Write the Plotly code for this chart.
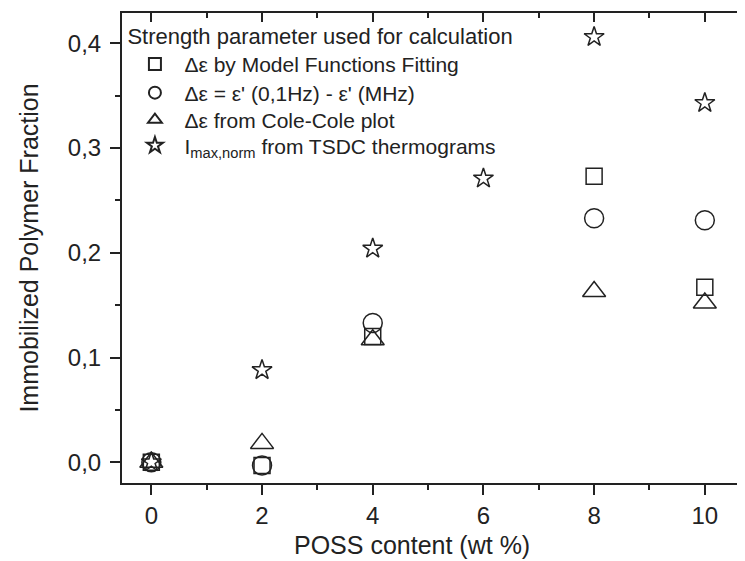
import plotly.graph_objects as go

# ---- data ----
x_sq = [0, 2, 4, 8, 10]
y_sq = [0.0, -0.003, 0.120, 0.273, 0.167]

x_ci = [0, 2, 4, 8, 10]
y_ci = [0.0, -0.003, 0.133, 0.233, 0.231]

x_tr = [0, 2, 4, 8, 10]
y_tr = [0.0, 0.018, 0.117, 0.163, 0.152]

x_st = [0, 2, 4, 6, 8, 10]
y_st = [0.0, 0.088, 0.204, 0.271, 0.406, 0.343]

names = [
    "Δε by Model Functions Fitting",
    "Δε = ε' (0,1Hz) - ε' (MHz)",
    "Δε from Cole-Cole plot",
    "I<sub>max,norm</sub> from TSDC thermograms",
]
legend_title = "Strength parameter used for calculation"

x_tickvals = [0, 2, 4, 6, 8, 10]
x_ticktext = ["0", "2", "4", "6", "8", "10"]
y_tickvals = [0.0, 0.1, 0.2, 0.3, 0.4]
y_ticktext = ["0,0", "0,1", "0,2", "0,3", "0,4"]

x_title = "POSS content (wt %)"
y_title = "Immobilized Polymer Fraction"

INK = "#222222"
FONT = "Arial, Liberation Sans, sans-serif"

legend_ids = ["legend", "legend2", "legend3", "legend4"]

fig = go.Figure()
for xs, ys, sym, sz, nm, lg in [
    (x_sq, y_sq, "square-open", 16, names[0], legend_ids[0]),
    (x_ci, y_ci, "circle-open", 19, names[1], legend_ids[1]),
    (x_tr, y_tr, "triangle-up-open", 20, names[2], legend_ids[2]),
    (x_st, y_st, "star-open", 15, names[3], legend_ids[3]),
]:
    fig.add_trace(go.Scatter(
        x=xs, y=ys, mode="markers", name=nm, legend=lg,
        marker=dict(symbol=sym, size=sz, color=INK,
                    line=dict(color=INK, width=1.5)),
        cliponaxis=False,
    ))

# invisible helper trace so the top axis is drawn
fig.add_trace(go.Scatter(x=[None], y=[None], xaxis="x2", yaxis="y",
                         showlegend=False, hoverinfo="skip"))

xr = [-0.53, 10.726]
LX = 0.0055
IW = 49


def item_legend(y, anchor="middle", title=None):
    d = dict(
        x=LX, y=y, xanchor="left", yanchor=anchor,
        bgcolor="rgba(0,0,0,0)", borderwidth=0,
        font=dict(size=21, family=FONT, color=INK),
        itemsizing="constant", itemwidth=IW,
    )
    if title:
        d["title"] = dict(text=title, font=dict(size=22, family=FONT, color=INK))
    return d


# the page body has an 8px margin, so the figure is 8px smaller and margins are shifted
fig.update_layout(
    width=737, height=553,
    margin=dict(l=114, r=0, t=5, b=78),
    paper_bgcolor="white", plot_bgcolor="white",
    font=dict(family=FONT, color=INK, size=24),
    showlegend=True,
    legend=item_legend(0.995, "top", legend_title),
    legend2=item_legend(0.8298),
    legend3=item_legend(0.7723),
    legend4=item_legend(0.7175),
    xaxis=dict(
        range=xr, showgrid=False, zeroline=False,
        showline=True, linecolor=INK, linewidth=2,
        ticks="outside", ticklen=10, tickwidth=1.5, tickcolor=INK,
        tickvals=x_tickvals, ticktext=x_ticktext,
        tickfont=dict(size=24, family=FONT, color=INK),
        minor=dict(dtick=1, tick0=1, ticks="outside", ticklen=5,
                   tickwidth=1.5, tickcolor=INK, showgrid=False),
    ),
    xaxis2=dict(
        range=xr, overlaying="x", side="top", anchor="y",
        showgrid=False, zeroline=False, showticklabels=False,
        showline=True, linecolor=INK, linewidth=2,
        ticks="inside", ticklen=9, tickwidth=1.5, tickcolor=INK,
        tickvals=x_tickvals,
        minor=dict(dtick=1, tick0=1, ticks="inside", ticklen=5,
                   tickwidth=1.5, tickcolor=INK, showgrid=False),
    ),
    yaxis=dict(
        range=[-0.0198, 0.4289], showgrid=False, zeroline=False,
        showline=True, linecolor=INK, linewidth=2,
        ticks="outside", ticklen=10, tickwidth=1.5, tickcolor=INK,
        tickvals=y_tickvals, ticktext=y_ticktext,
        ticklabelstandoff=4,
        tickfont=dict(size=24, family=FONT, color=INK),
        minor=dict(dtick=0.05, tick0=0.05, ticks="outside", ticklen=5,
                   tickwidth=1.5, tickcolor=INK, showgrid=False),
        title=dict(text=y_title, font=dict(size=25, family=FONT, color=INK), standoff=22),
    ),
    annotations=[dict(
        text=x_title, xref="paper", yref="paper", x=0.4655, y=-0.132,
        xanchor="center", yanchor="middle", showarrow=False,
        font=dict(size=25, family=FONT, color=INK),
    )],
)

fig.write_html("out.html")
